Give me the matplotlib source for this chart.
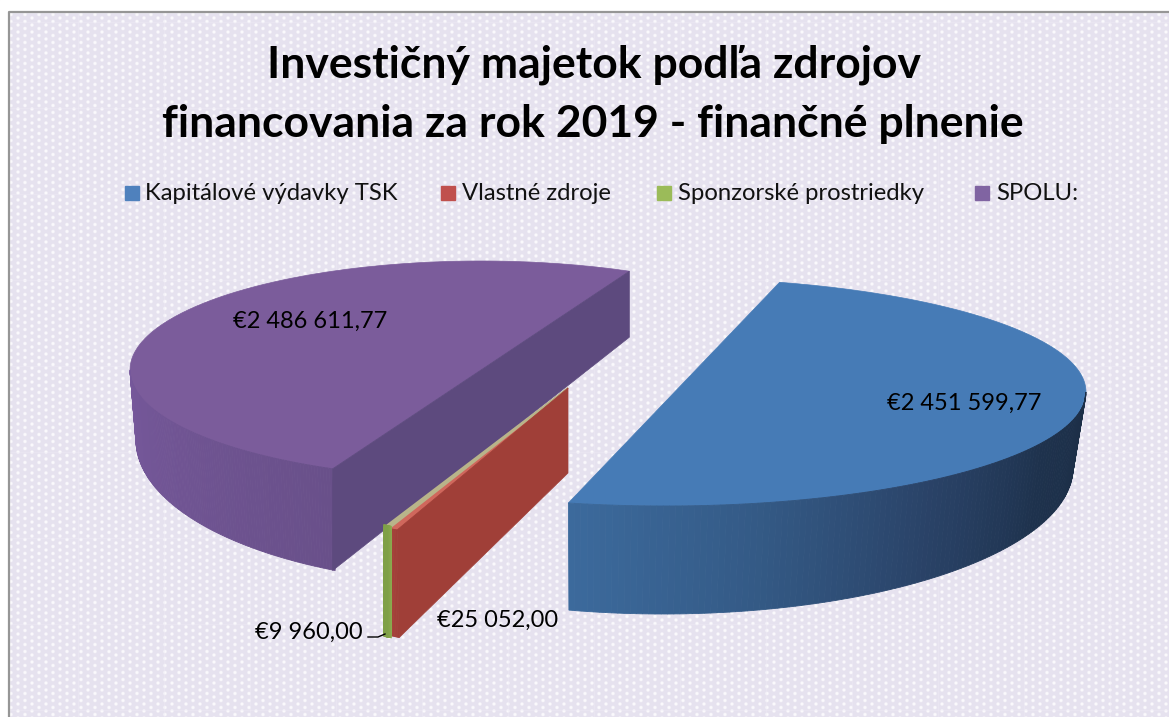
"""Exploded 3D style pie chart of investment assets by funding source, 2019."""

import matplotlib.pyplot as plt
import numpy as np
from matplotlib.colors import to_rgb
from matplotlib.patches import Rectangle

plt.rcParams["font.family"] = ["Lato", "DejaVu Sans"]

# Data
categories = ["Kapitálové výdavky TSK", "Vlastné zdroje", "Sponzorské prostriedky", "SPOLU:"]
values = [2451599.77, 25052.00, 9960.00, 2486611.77]
value_labels = ["€2 451 599,77", "€25 052,00", "€9 960,00", "€2 486 611,77"]
legend_colors = ["#4f81bd", "#c0504d", "#9bbb59", "#8064a2"]

W, H = 1169, 717

sweeps = np.array(values) / sum(values) * 360


def arc(cx, cy, a, b, start, sweep, n=120):
    """Points on an ellipse going clockwise on screen from the start angle."""
    t = np.radians(np.linspace(start, start - sweep, n))
    return np.column_stack([cx + a * np.cos(t), cy - b * np.sin(t)])


def draw_side(ax, top, bottom, colors, zorder, lw=0.6):
    """Fill the band between two arcs with a colour running through the given stops."""
    stops = np.array([to_rgb(c) for c in colors])
    pos = np.linspace(0, 1, len(stops))
    for i in range(len(top) - 1):
        f = i / (len(top) - 2)
        color = [np.interp(f, pos, stops[:, k]) for k in range(3)]
        quad = [top[i], top[i + 1], bottom[i + 1], bottom[i]]
        ax.fill(*zip(*quad), color=color, lw=lw, zorder=zorder)


def background():
    """Dotted lavender texture, with the faint seams of its tiling."""
    yy, xx = np.mgrid[0:H, 0:W]
    row = (xx // 7) % 2
    dist = np.hypot(xx % 7 - 3.5, (yy + 3.5 * row) % 7 - 3.5)
    dots = np.clip(1.7 - dist * 0.75, 0, 1)[..., None]
    texture = np.array([230, 226, 239]) / 255 * (1 - dots) + np.array([250, 249, 252]) / 255 * dots
    seam_x = (np.arange(W) - 78) % 86 == 0
    seam_y = (np.arange(H) - 22) % 86 == 0
    texture[:, seam_x] = texture[:, seam_x] * 0.6 + np.array([238, 235, 245]) / 255 * 0.4
    texture[seam_y, :] = texture[seam_y, :] * 0.6 + np.array([238, 235, 245]) / 255 * 0.4
    return texture


def plot():
    fig = plt.figure(figsize=(W / 100, H / 100), dpi=100)
    ax = fig.add_axes([0, 0, 1, 1])
    ax.set_xlim(0, W)
    ax.set_ylim(H, 0)
    ax.axis("off")

    ax.imshow(background(), extent=(0, W, H, 0), aspect="auto", zorder=0, interpolation="bilinear")
    ax.add_patch(Rectangle((0, 0), W, 12, color="white", zorder=1))
    ax.add_patch(Rectangle((0, 0), 9, H, color="white", zorder=1))
    ax.plot([9, 9, W], [H, 12, 12], color="#969696", lw=1.6, zorder=2)

    ax.text(594, 65, "Investičný majetok podľa zdrojov", fontsize=32, fontweight="bold",
            ha="center", va="center", color="black", zorder=5)
    ax.text(593, 124, "financovania za rok 2019 - finančné plnenie", fontsize=32, fontweight="bold",
            ha="center", va="center", color="black", zorder=5)

    for x_box, x_text, name, color in zip([125, 441, 657, 975], [145, 462, 678, 996], categories, legend_colors):
        ax.add_patch(Rectangle((x_box, 186), 14, 14, color=color, zorder=5))
        ax.text(x_text, 193.5, name, fontsize=17.2, ha="left", va="center", color="#111111", zorder=5)

    # Purple slice
    purple_start = -115
    top = arc(481, 370, 351, 109, purple_start, sweeps[3])
    ax.fill(*zip(*top), color="#7b5c9b", lw=0.5, zorder=3)
    front = arc(481, 370, 351, 109, purple_start, 65)
    front_low = arc(481, 440, 345, 144, purple_start, 65)
    draw_side(ax, front, front_low, ["#69508a", "#76589b"], 3)
    near, far = top[0], top[-1]
    ax.fill([near[0], far[0], far[0], near[0]], [near[1], far[1], far[1] + 66, front_low[0, 1]],
            color="#5d4a7e", lw=0.5, zorder=3)

    # Red and green slivers
    red_start = -115.3
    red_top = arc(568, 388, 400, 157, red_start, sweeps[1], n=10)
    red_low = arc(568, 473, 395, 182, red_start, sweeps[1], n=10)
    green_top = arc(572, 388, 400, 157, red_start - sweeps[1], sweeps[2], n=10)
    green_low = arc(572, 496, 400, 157, red_start - sweeps[1], sweeps[2], n=10)
    ax.fill([568, *red_top[:, 0]], [388, *red_top[:, 1]], color="#d0675c", lw=1, zorder=4)
    ax.fill([568, *green_top[:, 0]], [388, *green_top[:, 1]], color="#b8b48a", lw=1.5, zorder=4)
    ax.fill([568, red_top[0, 0], red_low[0, 0], 568], [388, red_top[0, 1], red_low[0, 1], 473],
            color="#a03f38", lw=0.5, zorder=4)
    draw_side(ax, red_top, red_low, ["#a03f38", "#a8433b"], 4)
    draw_side(ax, green_top, green_low, ["#8bab4f", "#7fa047"], 4, lw=3)

    # Blue slice
    blue_start = 74.2
    top = arc(665, 392, 421, 114, blue_start, sweeps[0])
    ax.fill(*zip(*top), color="#467bb6", lw=0.5, zorder=3)
    front = arc(665, 392, 421, 114, 0, -(blue_start - sweeps[0]))
    front_low = arc(663, 468, 410, 146, 0, -(blue_start - sweeps[0]))
    draw_side(ax, front_low, front, ["#1c2e46", "#1e324d", "#2a4368", "#345a86", "#3c6a9c"], 3)

    # Value labels
    for x, y, label in zip([964, 498, 309, 310], [403, 620, 632, 321], value_labels):
        ax.text(x, y, label, fontsize=17, ha="center", va="center", color="black", zorder=6)
    ax.plot([368, 378, 385], [637, 637, 634], color="black", lw=1, zorder=6)

    fig.savefig("out.png", dpi=100)


if __name__ == "__main__":
    plot()
